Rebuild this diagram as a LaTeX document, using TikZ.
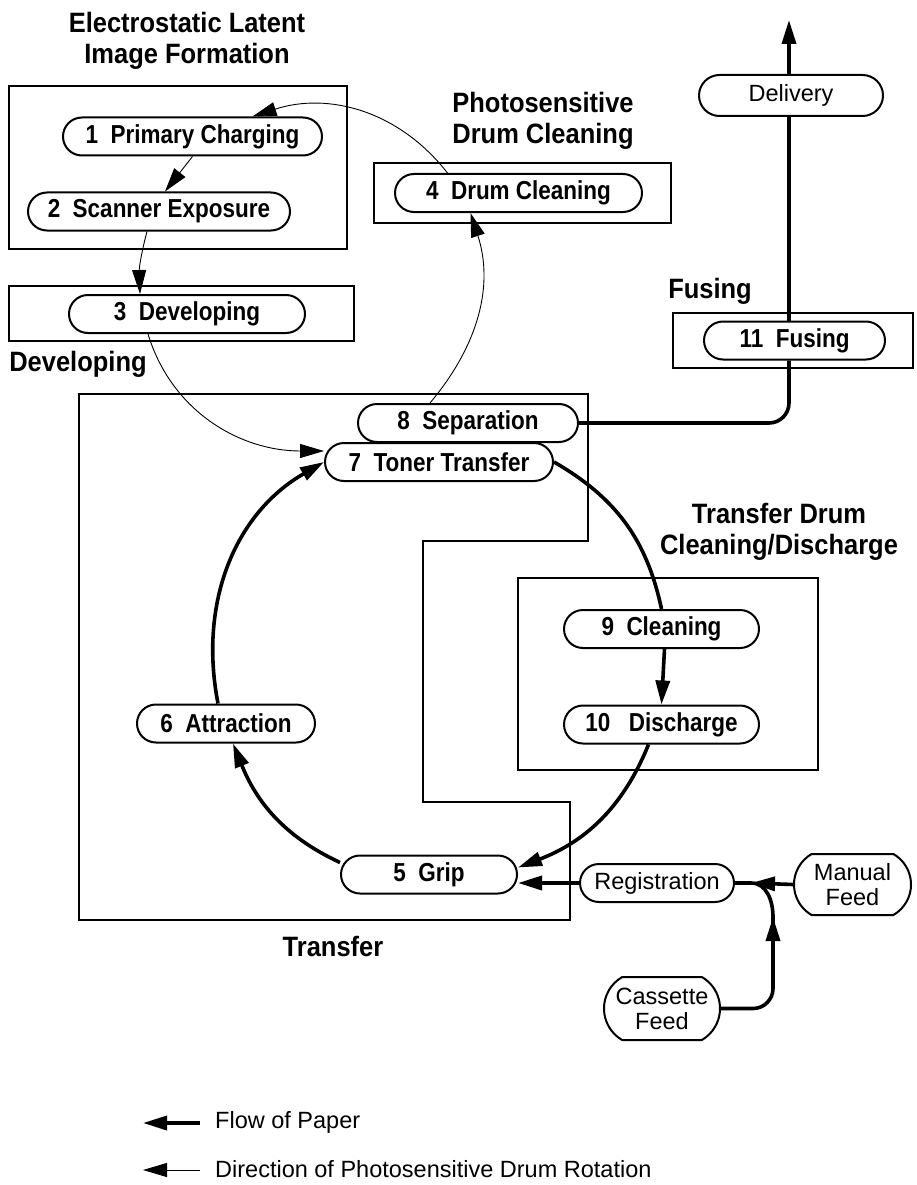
\documentclass[tikz,border=0pt]{standalone}
\usepackage{fontspec}
\setmainfont{Liberation Sans}
\newfontfamily\condlabel[FakeStretch=0.865]{Liberation Sans}
\newfontfamily\condtitle[FakeStretch=0.91]{Liberation Sans}
\usetikzlibrary{arrows.meta,shapes.misc}
\tikzstyle{stage}=[rounded rectangle,draw,fill=white,line width=2pt,minimum height=38pt,inner sep=0pt,font=\condlabel\bfseries\fontsize{26}{30}\selectfont]
\tikzstyle{feed}=[rounded rectangle,draw,fill=white,line width=2pt,minimum height=38pt,inner sep=0pt,align=center,font=\fontsize{23.5}{25}\selectfont]
\tikzstyle{grp}=[draw,line width=2.4pt]
\tikzstyle{ttl}=[align=center,inner sep=0pt,font=\condtitle\bfseries\fontsize{28}{31}\selectfont]
\tikzstyle{lgd}=[anchor=west,inner sep=0pt,font=\fontsize{23.5}{26}\selectfont]
\tikzstyle{drum}=[->,>={Triangle[length=24pt,width=14pt]},draw,line width=0.9pt]
\tikzstyle{paper}=[->,>={Triangle[length=24pt,width=14pt]},draw,line width=3.6pt]

\begin{document}
\begin{tikzpicture}[x=1pt,y=-1pt]
  \useasboundingbox (0,0) rectangle (916,1185);
  % group frames
  \draw[grp] (9,86) rectangle (347,249);
  \draw[grp] (9,286) rectangle (354,341);
  \draw[grp] (374,163) rectangle (671,223);
  \draw[grp] (673,313) rectangle (913,368);
  \draw[grp] (518,578) rectangle (818,770);
  \draw[grp] (79,394) -- (588,394) -- (588,541) -- (423,541) -- (423,802)
    -- (570,802) -- (570,920) -- (79,920) -- cycle;
  % titles
  \node[ttl] (tLatent) at (187,41) {Electrostatic Latent\\Image Formation};
  \node[ttl] (tDrumCl) at (543,121) {Photosensitive\\Drum Cleaning};
  \node[ttl] (tDevel) at (78,364) {Developing};
  \node[ttl] (tFusing) at (710,291) {Fusing};
  \node[ttl] (tXfer) at (333,946) {Transfer};
  \node[ttl] (tXferDrum) at (779,532) {Transfer Drum\\Cleaning/Discharge};
  % process steps
  \node[stage,minimum width=259pt] (n1) at (192.5,136.5) {1\ \ Primary Charging};
  \node[stage,minimum width=262pt] (n2) at (159,211.5) {2\ \ Scanner Exposure};
  \node[stage,minimum width=236pt] (n3) at (187,314) {3\ \ Developing};
  \node[stage,minimum width=247pt] (n4) at (518.5,193) {4\ \ Drum Cleaning};
  \node[stage,minimum width=176pt] (n5) at (429,874.5) {5\ \ Grip};
  \node[stage,minimum width=178pt] (n6) at (226,723.5) {6\ \ Attraction};
  \node[stage,minimum width=228pt] (n7) at (439,462) {7\ \ Toner Transfer};
  \node[stage,minimum width=220pt] (n8) at (468,423) {8\ \ Separation};
  \node[stage,minimum width=195pt] (n9) at (661.5,629) {9\ \ Cleaning};
  \node[stage,minimum width=195pt] (n10) at (661.5,724.5) {10\ \ \ Discharge};
  \node[stage,minimum width=181pt] (n11) at (794.5,340.5) {11\ \ Fusing};
  \node[feed,minimum width=184pt,minimum height=41pt] (dlv) at (791,95.5) {Delivery};
  \node[feed,minimum width=154pt] (reg) at (657,883) {Registration};
  \node[feed,minimum width=117pt,minimum height=61pt,rounded rectangle arc length=120] (man) at (852.5,884.5) {Manual\\Feed};
  \node[feed,minimum width=116pt,minimum height=63pt,rounded rectangle arc length=120] (cas) at (662,1008.5) {Cassette\\Feed};
  \coordinate (top) at (789,20);
  \coordinate (join) at (751,883);
  \coordinate (casUp) at (773,917);
  % photosensitive drum rotation
  \draw[drum] (n1.south) -- ([xshift=6]n2.north);
  \draw[drum] ([xshift=-12]n2.south) to[out=-105,in=92] ([xshift=-47]n3.north);
  \draw[drum] ([xshift=-39]n3.south) to[out=-73,in=180] ([yshift=11]n7.west);
  \draw[drum] ([xshift=-38]n8.north) to[out=50,in=-72] ([xshift=-48]n4.south);
  \draw[drum] ([xshift=-71]n4.north) to[out=128,in=18] ([xshift=60]n1.north);
  % transfer drum
  \draw[paper] ([yshift=12]n5.west) to[out=155,in=-68] ([xshift=7]n6.south);
  \draw[paper] ([xshift=-8]n6.north) to[out=101,in=210] (n7.west);
  \draw[paper,-] (n7.east) to[out=-30,in=102] (n9.north);
  \draw[paper] ([xshift=3]n9.south) -- (n10.north);
  \draw[paper] ([xshift=-13]n10.south) to[out=-112,in=21] ([yshift=7]n5.east);
  % paper path
  \draw[paper,-,rounded corners=20pt] (n8.east) -| ([xshift=-5.5]n11.south);
  \draw[paper,-] ([xshift=-5.5]n11.north) -- ([xshift=-2]dlv.south);
  \draw[paper] ([xshift=-2]dlv.north) -- (top);
  \draw[paper] (reg.west) -- (n5.east |- reg.west);
  \draw[paper] (man.west) -- (join);
  \draw[paper,-] (join) -- (reg.east);
  \draw[paper,rounded corners=20pt] (cas.east) -| (casUp);
  \draw[paper,-] ([yshift=-8]casUp) -- (casUp) to[out=90,in=0] (join);
  % legend
  \node[lgd] (lgPaper) at (215,1122) {Flow of Paper};
  \node[lgd] (lgDrum) at (215,1169) {Direction of Photosensitive Drum Rotation};
  \coordinate (lgP0) at (143,1123);
  \coordinate (lgD0) at (143,1170);
  \draw[paper] ([xshift=-15]lgPaper.west |- lgP0) -- (lgP0);
  \draw[drum] ([xshift=-15]lgDrum.west |- lgD0) -- (lgD0);
\end{tikzpicture}
\end{document}
